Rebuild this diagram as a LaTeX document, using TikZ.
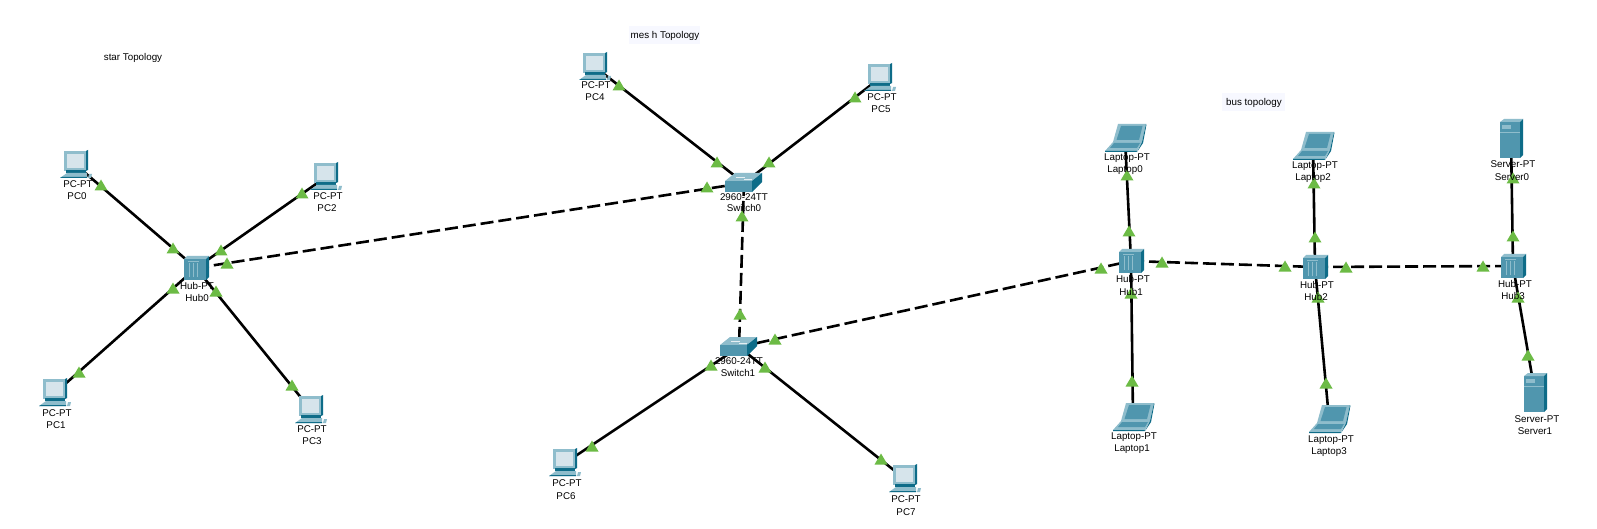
\documentclass[tikz,border=0pt]{standalone}
\usepackage{fontspec}
\setmainfont{Liberation Sans}
\definecolor{front}{HTML}{5096AE}
\definecolor{lite}{HTML}{8FBDCC}
\definecolor{dark}{HTML}{0E6C88}
\definecolor{scr}{HTML}{D6E4EB}
\definecolor{tri}{HTML}{6CBB45}
\definecolor{pale}{HTML}{F7F8FF}
\tikzset{
  lnk/.style={black,line width=2.6pt},
  dlnk/.style={black,line width=2.6pt,dash pattern=on 13pt off 5pt},
  lbl/.style={font=\fontsize{9.8}{11}\selectfont,inner sep=0pt,text=black},
  note/.style={font=\fontsize{9.8}{11}\selectfont,inner sep=0pt,text=black},
  pcicon/.pic={
    \fill[lite] (-12,-14) rectangle (10,6);
    \fill[dark] (10,-14) -- (12,-15) -- (12,5) -- (10,6) -- cycle;
    \fill[scr] (-9,-11) rectangle (8,3);
    \fill[dark] (-10,5) rectangle (10,8);
    \fill[lite] (-9,8) -- (11,8) -- (11,13) -- (-16,13) -- cycle;
    \fill[dark] (-14,12) -- (11,12) -- (11,13) -- (-16,13) -- cycle;
    \fill[lite] (13,9) -- (16,9) -- (15,13) -- (12,13) -- cycle;
  },
  hubicon/.pic={
    \fill[front] (-12,-9) rectangle (10,12);
    \fill[lite] (-12,-9) -- (-9,-12) -- (13,-12) -- (10,-9) -- cycle;
    \fill[dark] (10,-9) -- (13,-12) -- (13,9) -- (10,12) -- cycle;
    \fill[lite] (-8,-7) rectangle (3,-6);
    \foreach \i in {-7,-3,1} \fill[lite] (\i,-5) rectangle (\i+1.2,9);
  },
  swicon/.pic={
    \fill[lite] (-19,-2) -- (-9,-10) -- (18,-10) -- (8,-2) -- cycle;
    \fill[front] (-19,-2) rectangle (8,9);
    \fill[dark] (8,-2) -- (18,-10) -- (18,-1) -- (8,9) -- cycle;
    \draw[white!85!front,line width=.6pt] (-8,-6) -- (1,-6) (0,-4) -- (8,-4);
  },
  lapicon/.pic={
    \fill[lite] (-7,-14) -- (21,-14) -- (17,4) -- (-12,4) -- cycle;
    \fill[front] (-4,-12) -- (17.5,-12) -- (14,2) -- (-8.5,2) -- cycle;
    \fill[lite] (-12,4) -- (17,4) -- (12,13) -- (-20,13) -- cycle;
    \fill[front] (-11,5) -- (15,5) -- (12,10) -- (-15,10) -- cycle;
    \fill[dark] (-20,13) -- (12,13) -- (11.6,14) -- (-20,14) -- cycle;
    \fill[dark] (17,4) -- (21,-14) -- (21.4,-13) -- (18,5) -- (12,14) -- cycle;
  },
  srvicon/.pic={
    \fill[front] (-11,-17) rectangle (9,19);
    \fill[lite] (-11,-17) -- (-7,-20) -- (12,-20) -- (9,-17) -- cycle;
    \fill[dark] (9,-17) -- (12,-20) -- (12,16) -- (9,19) -- cycle;
    \fill[lite] (-9,-14) rectangle (0,-10);
    \draw[lite,line width=.3pt] (-11,-7) -- (9,-7);
  },
}
\newcommand{\trimark}[2]{\fill[tri] (#1-6.5,#2+5.5) -- (#1,#2-5.5) -- (#1+6.5,#2+5.5) -- cycle;}
\begin{document}
\begin{tikzpicture}[x=1pt,y=-1pt]
\useasboundingbox (0,0) rectangle (1597,529);
\fill[white] (0,0) rectangle (1597,529);
% device positions
\coordinate (PC0) at (76,165);
\coordinate (PC1) at (55,393);
\coordinate (PC2) at (326,177);
\coordinate (PC3) at (311,410);
\coordinate (PC4) at (595,67);
\coordinate (PC5) at (880,78);
\coordinate (PC6) at (565,463);
\coordinate (PC7) at (905,479);
\coordinate (Hub0) at (196,268);
\coordinate (Hub1) at (1131,261);
\coordinate (Hub2) at (1315,267);
\coordinate (Hub3) at (1513,266);
\coordinate (Switch0) at (744,183);
\coordinate (Switch1) at (739,347);
\coordinate (Laptop0) at (1125,138);
\coordinate (Laptop1) at (1133,417);
\coordinate (Laptop2) at (1313,146);
\coordinate (Laptop3) at (1329,419);
\coordinate (Server0) at (1511,139);
\coordinate (Server1) at (1535,393);
% note backgrounds
\fill[pale] (629,26) rectangle (700,44);
\fill[pale] (1222,93) rectangle (1285,111);
% links
\draw[lnk] (PC0) -- (Hub0);
\draw[lnk] (PC1) -- (Hub0);
\draw[lnk] (PC2) -- (Hub0);
\draw[lnk] (PC3) -- (Hub0);
\draw[lnk] (PC4) -- (Switch0);
\draw[lnk] (PC5) -- (Switch0);
\draw[lnk] (PC6) -- (Switch1);
\draw[lnk] (PC7) -- (Switch1);
\draw[lnk] (Laptop0) -- (Hub1);
\draw[lnk] (Laptop1) -- (Hub1);
\draw[lnk] (Laptop2) -- (Hub2);
\draw[lnk] (Laptop3) -- (Hub2);
\draw[lnk] (Server0) -- (Hub3);
\draw[lnk] (Server1) -- (Hub3);
\draw[dlnk] (Hub0) -- (Switch0);
\draw[dlnk] (Switch0) -- (Switch1);
\draw[dlnk] (Switch1) -- (Hub1);
\draw[dlnk] (Hub1) -- (Hub2);
\draw[dlnk] (Hub2) -- (Hub3);
% link markers
\trimark{101}{185}\trimark{173}{248}
\trimark{221}{250}\trimark{302}{193}
\trimark{227}{263}\trimark{707}{187}
\trimark{173}{288}\trimark{79}{372}
\trimark{216}{291}\trimark{292}{385}
\trimark{619}{85}\trimark{717}{162}
\trimark{855}{97}\trimark{769}{162}
\trimark{742}{216}\trimark{740}{314}
\trimark{711}{365}\trimark{592}{446}
\trimark{765}{367}\trimark{881}{459}
\trimark{775}{339}\trimark{1101}{268}
\trimark{1127}{175}\trimark{1129}{231}
\trimark{1131}{293}\trimark{1132}{381}
\trimark{1162}{262}\trimark{1285}{266}
\trimark{1346}{267}\trimark{1483}{266}
\trimark{1314}{183}\trimark{1315}{237}
\trimark{1318}{297}\trimark{1326}{383}
\trimark{1513}{178}\trimark{1513}{236}
\trimark{1518}{297}\trimark{1528}{355}
% icons
\foreach \n in {PC0,PC1,PC2,PC3,PC4,PC5,PC6,PC7} \pic at (\n) {pcicon};
\foreach \n in {Hub0,Hub1,Hub2,Hub3} \pic at (\n) {hubicon};
\foreach \n in {Switch0,Switch1} \pic at (\n) {swicon};
\foreach \n in {Laptop0,Laptop1,Laptop2,Laptop3} \pic at (\n) {lapicon};
\foreach \n in {Server0,Server1} \pic at (\n) {srvicon};
% labels
\node[lbl] (lPC0a) at (78,184) {PC-PT};   \node[lbl] (lPC0b) at (77,196) {PC0};
\node[lbl] (lPC1a) at (57,413) {PC-PT};   \node[lbl] (lPC1b) at (56,425) {PC1};
\node[lbl] (lPC2a) at (328,196) {PC-PT};  \node[lbl] (lPC2b) at (327,208) {PC2};
\node[lbl] (lPC3a) at (312,429) {PC-PT};  \node[lbl] (lPC3b) at (312,441) {PC3};
\node[lbl] (lPC4a) at (596,85) {PC-PT};   \node[lbl] (lPC4b) at (595,97) {PC4};
\node[lbl] (lPC5a) at (882,97) {PC-PT};   \node[lbl] (lPC5b) at (881,109) {PC5};
\node[lbl] (lPC6a) at (567,483) {PC-PT};  \node[lbl] (lPC6b) at (566,496) {PC6};
\node[lbl] (lPC7a) at (906,499) {PC-PT};  \node[lbl] (lPC7b) at (906,512) {PC7};
\node[lbl] (lH0a) at (197,286) {Hub-PT};  \node[lbl] (lH0b) at (197,298) {Hub0};
\node[lbl] (lH1a) at (1133,279) {Hub-PT}; \node[lbl] (lH1b) at (1131,292) {Hub1};
\node[lbl] (lH2a) at (1317,285) {Hub-PT}; \node[lbl] (lH2b) at (1316,297) {Hub2};
\node[lbl] (lH3a) at (1515,284) {Hub-PT}; \node[lbl] (lH3b) at (1513,296) {Hub3};
\node[lbl] (lS0a) at (744,197) {2960-24TT}; \node[lbl] (lS0b) at (744,208) {Switch0};
\node[lbl] (lS1a) at (739,361) {2960-24TT}; \node[lbl] (lS1b) at (738,373) {Switch1};
\node[lbl] (lL0a) at (1127,158) {Laptop-PT}; \node[lbl] (lL0b) at (1125,170) {Laptop0};
\node[lbl] (lL1a) at (1134,437) {Laptop-PT}; \node[lbl] (lL1b) at (1132,449) {Laptop1};
\node[lbl] (lL2a) at (1315,166) {Laptop-PT}; \node[lbl] (lL2b) at (1313,178) {Laptop2};
\node[lbl] (lL3a) at (1331,440) {Laptop-PT}; \node[lbl] (lL3b) at (1329,452) {Laptop3};
\node[lbl] (lV0a) at (1513,164) {Server-PT}; \node[lbl] (lV0b) at (1512,177) {Server0};
\node[lbl] (lV1a) at (1537,419) {Server-PT}; \node[lbl] (lV1b) at (1535,431) {Server1};
% notes
\node[note] (nStar) at (133,58) {star Topology};
\node[note] (nMesh) at (665,36) {mes h Topology};
\node[note] (nBus) at (1254,103) {bus topology};
\end{tikzpicture}
\end{document}
